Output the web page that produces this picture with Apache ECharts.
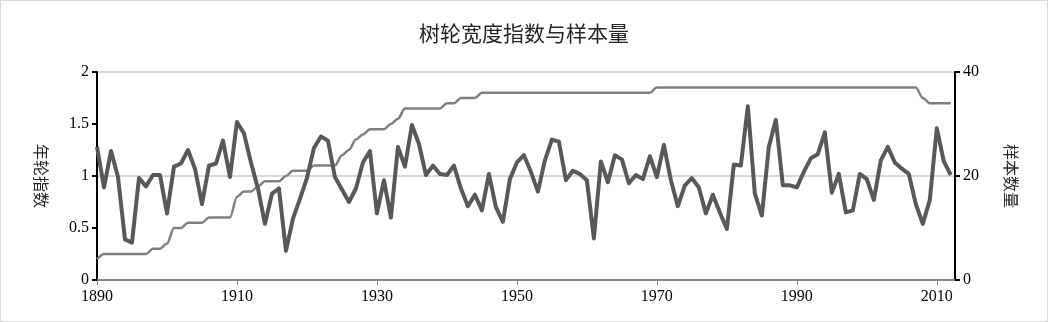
<!DOCTYPE html>
<html>
<head>
<meta charset="utf-8">
<script src="https://cdn.jsdelivr.net/npm/echarts@6/dist/echarts.min.js"></script>
<style>
  html, body { margin: 0; padding: 0; background: #fff; }
  #wrap { position: relative; width: 1048px; height: 322px; }
  #chart { width: 1048px; height: 322px; }
  #frame { position: absolute; left: 0; top: 0; width: 1048px; height: 322px;
           box-sizing: border-box; border: 1px solid #d9d9d9; pointer-events: none; }
</style>
</head>
<body>
<div id="wrap">
  <div id="chart"></div>
  <div id="frame"></div>
</div>
<script>
const firstYear = 1890

// 年轮指数 1890-2012
const ringIndex = [
  1.28, 0.89, 1.24, 0.99, 0.39, 0.36, 0.98, 0.90, 1.01, 1.01,
  0.64, 1.09, 1.12, 1.25, 1.07, 0.73, 1.10, 1.12, 1.34, 0.99,
  1.52, 1.41, 1.13, 0.88, 0.54, 0.83, 0.88, 0.28, 0.59, 0.78,
  0.98, 1.27, 1.38, 1.34, 0.99, 0.87, 0.75, 0.88, 1.13, 1.24,
  0.64, 0.96, 0.60, 1.28, 1.09, 1.49, 1.31, 1.01, 1.10, 1.02,
  1.01, 1.10, 0.88, 0.71, 0.82, 0.67, 1.02, 0.70, 0.56, 0.97,
  1.13, 1.20, 1.04, 0.85, 1.15, 1.35, 1.33, 0.96, 1.05, 1.02,
  0.96, 0.40, 1.14, 0.94, 1.20, 1.16, 0.93, 1.01, 0.97, 1.19,
  0.99, 1.30, 0.96, 0.71, 0.91, 0.98, 0.89, 0.64, 0.82, 0.65,
  0.49, 1.11, 1.10, 1.67, 0.83, 0.62, 1.28, 1.54, 0.91, 0.91,
  0.89, 1.04, 1.17, 1.21, 1.42, 0.84, 1.02, 0.65, 0.67, 1.02,
  0.97, 0.77, 1.15, 1.28, 1.13, 1.07, 1.02, 0.73, 0.54, 0.77,
  1.46, 1.14, 1.01
]

// 样本数量 1890-2012
const sampleCount = [
  4, 5, 5, 5, 5, 5, 5, 5, 6, 6,
  7, 10, 10, 11, 11, 11, 12, 12, 12, 12,
  16, 17, 17, 18, 19, 19, 19, 20, 21, 21,
  21, 22, 22, 22, 22, 24, 25, 27, 28, 29,
  29, 29, 30, 31, 33, 33, 33, 33, 33, 33,
  34, 34, 35, 35, 35, 36, 36, 36, 36, 36,
  36, 36, 36, 36, 36, 36, 36, 36, 36, 36,
  36, 36, 36, 36, 36, 36, 36, 36, 36, 36,
  37, 37, 37, 37, 37, 37, 37, 37, 37, 37,
  37, 37, 37, 37, 37, 37, 37, 37, 37, 37,
  37, 37, 37, 37, 37, 37, 37, 37, 37, 37,
  37, 37, 37, 37, 37, 37, 37, 37, 35, 34,
  34, 34, 34
]

const leftTicks = [0, 2, 0.5]   // min, max, interval
const rightTicks = [0, 40, 20]
const yearTicks = [1890, 2012.6, 20]

const years = ringIndex.map((v, i) => firstYear + i)

const chart = echarts.init(document.getElementById('chart'))

chart.setOption({
  animation: false,
  backgroundColor: '#fff',
  title: {
    text: '树轮宽度指数与样本量',
    left: 'center',
    top: 18,
    textStyle: {
      fontFamily: 'Noto Sans CJK SC',
      fontSize: 21,
      fontWeight: 'normal',
      color: '#262626'
    }
  },
  grid: {
    left: 97,
    right: 93,
    top: 72,
    bottom: 42
  },
  xAxis: {
    type: 'value',
    min: yearTicks[0],
    max: yearTicks[1],
    interval: yearTicks[2],
    axisLine: { lineStyle: { color: '#868686', width: 2 } },
    axisTick: { show: true, length: 5, lineStyle: { color: '#868686', width: 1 } },
    splitLine: { show: false },
    axisLabel: {
      showMaxLabel: false,
      margin: 9,
      formatter: v => String(v),
      fontFamily: 'Liberation Serif',
      fontSize: 16,
      color: '#000'
    }
  },
  yAxis: [
    {
      type: 'value',
      position: 'left',
      min: leftTicks[0],
      max: leftTicks[1],
      interval: leftTicks[2],
      name: '年轮指数',
      nameLocation: 'middle',
      nameGap: 48,
      nameRotate: -90,
      nameTextStyle: { fontFamily: 'Noto Sans CJK SC', fontSize: 16, color: '#262626' },
      axisLine: { show: true, lineStyle: { color: '#000', width: 2 } },
      axisTick: { show: true, length: 5, lineStyle: { color: '#000', width: 2 } },
      splitLine: { show: false },
      axisLabel: {
        margin: 8,
        fontFamily: 'Liberation Serif',
        fontSize: 16,
        color: '#000'
      }
    },
    {
      type: 'value',
      position: 'right',
      min: rightTicks[0],
      max: rightTicks[1],
      interval: rightTicks[2],
      name: '样本数量',
      nameLocation: 'middle',
      nameGap: 48,
      nameRotate: -90,
      nameTextStyle: { fontFamily: 'Noto Sans CJK SC', fontSize: 16, color: '#262626' },
      axisLine: { show: true, lineStyle: { color: '#000', width: 2 } },
      axisTick: { show: true, length: 5, lineStyle: { color: '#000', width: 2 } },
      splitLine: { show: true, lineStyle: { color: '#d9d9d9', width: 2 } },
      axisLabel: {
        margin: 8,
        fontFamily: 'Liberation Serif',
        fontSize: 16,
        color: '#000'
      }
    }
  ],
  series: [
    {
      name: '样本数量',
      type: 'line',
      yAxisIndex: 1,
      data: years.map((y, i) => [y, sampleCount[i]]),
      symbol: 'none',
      smooth: 0.3,
      smoothMonotone: 'x',
      lineStyle: { color: '#808080', width: 2.5 },
      z: 2
    },
    {
      name: '年轮指数',
      type: 'line',
      yAxisIndex: 0,
      data: years.map((y, i) => [y, ringIndex[i]]),
      symbol: 'none',
      lineStyle: { color: '#595959', width: 4, join: 'round' },
      z: 3
    }
  ]
})
</script>
</body>
</html>
